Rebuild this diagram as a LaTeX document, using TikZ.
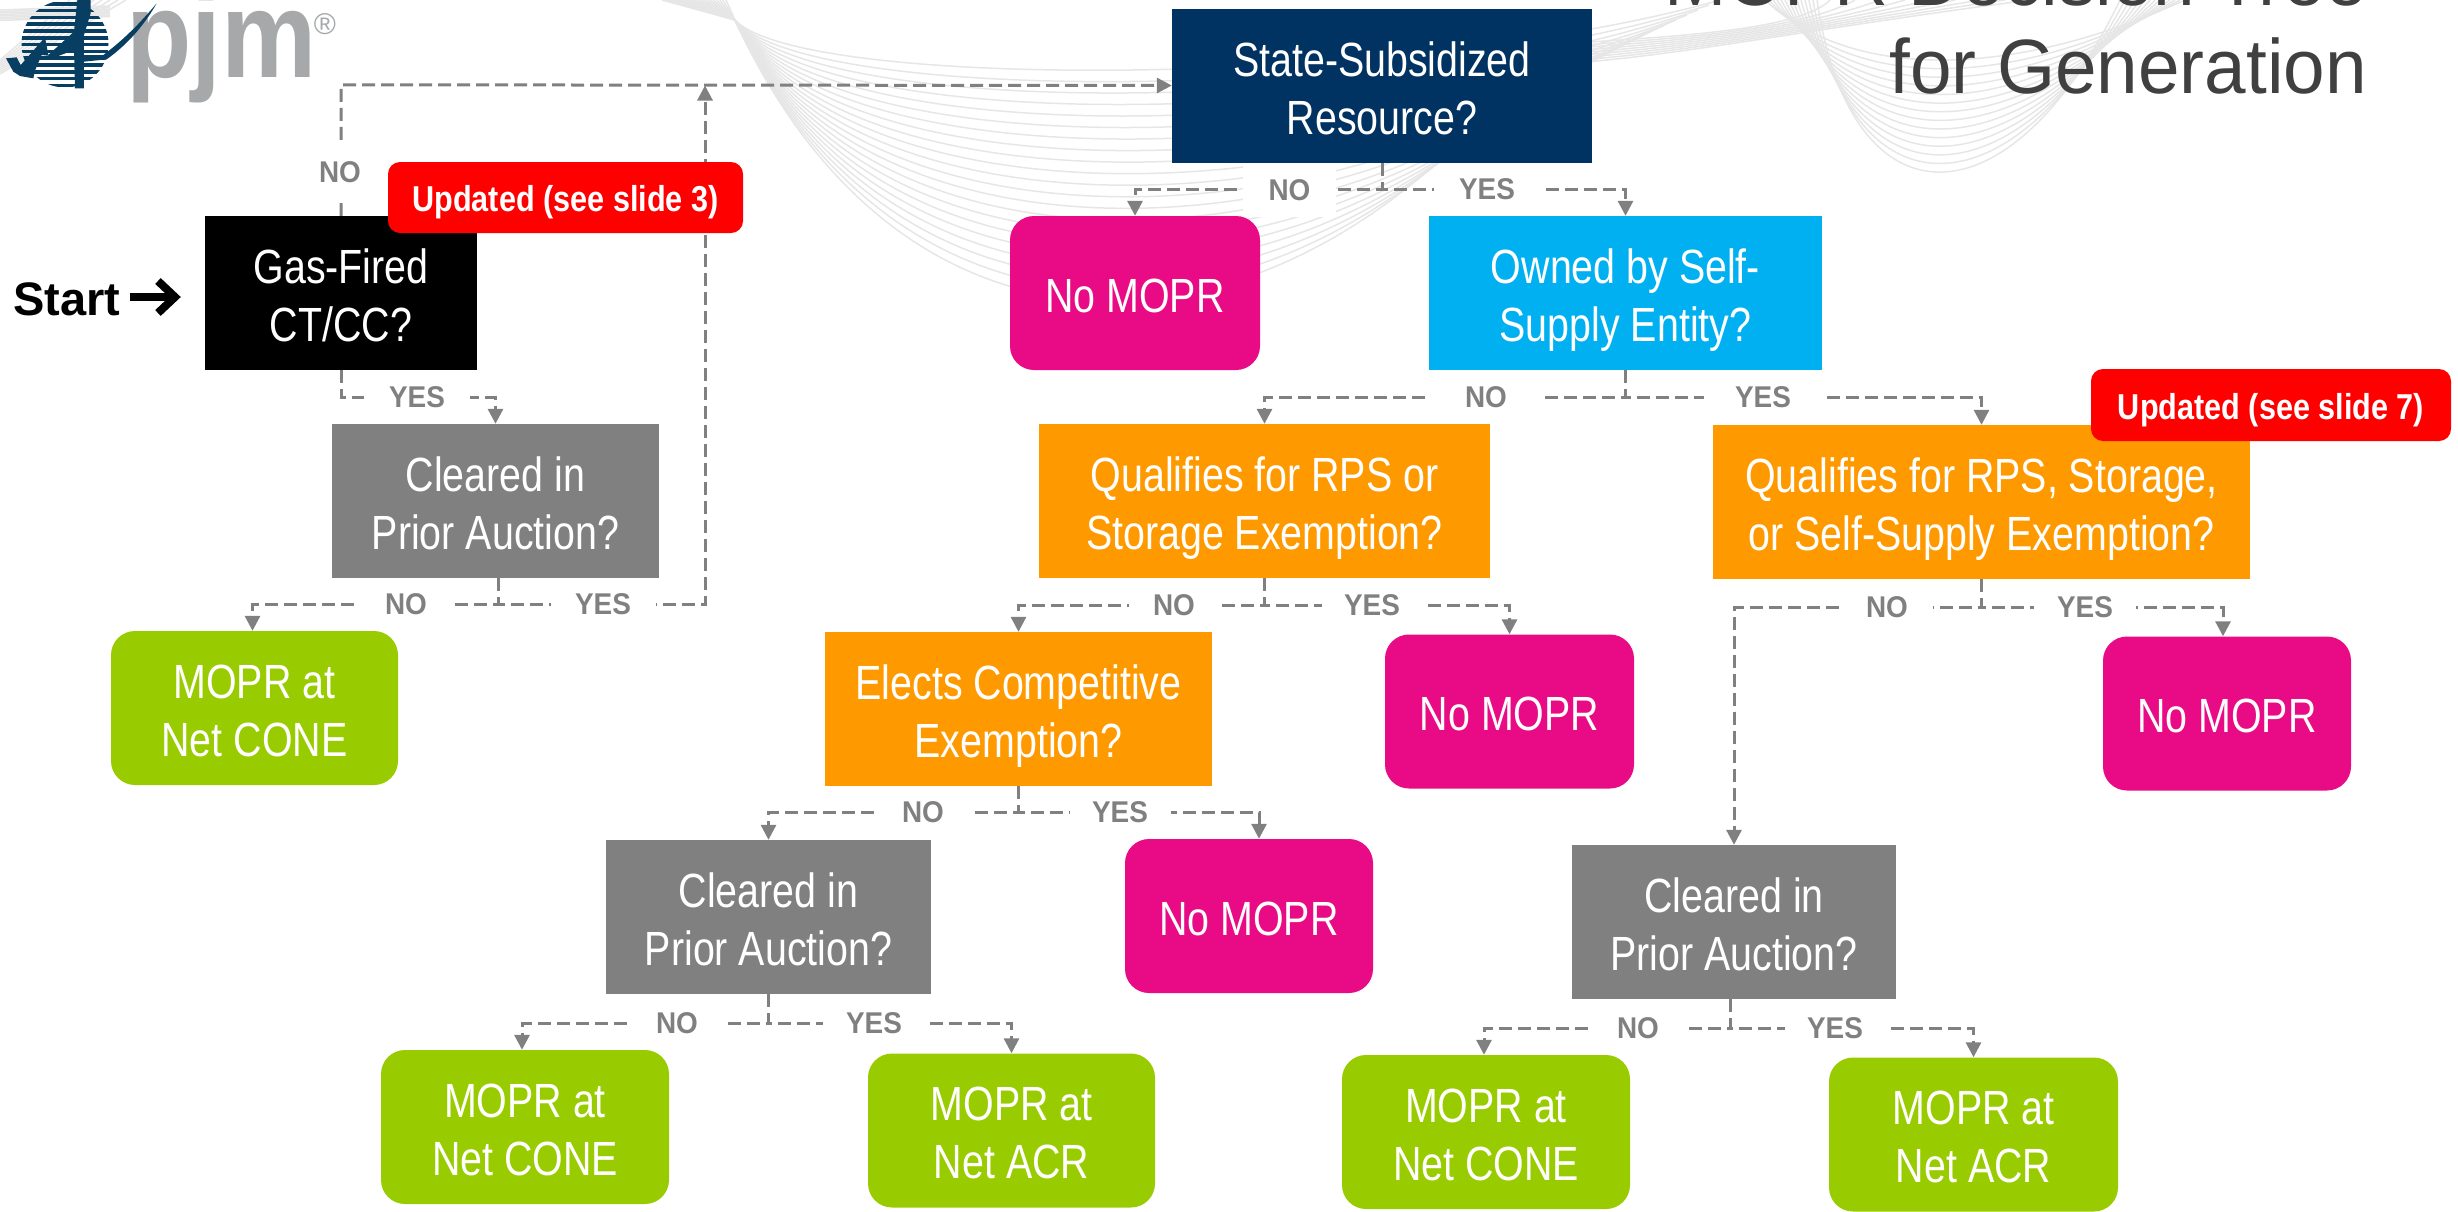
\documentclass[tikz,border=0pt]{standalone}
\usepackage{fontspec}
\usetikzlibrary{arrows.meta}
\setmainfont{Liberation Sans}
\newfontfamily\narrowf[FakeStretch=0.82]{Liberation Sans}
\newfontfamily\redf[FakeStretch=0.85]{Liberation Sans}
\newfontfamily\labf[FakeStretch=0.93]{Liberation Sans}
\newfontfamily\titlef[FakeStretch=0.97]{Liberation Sans}
\newfontfamily\logof[FakeStretch=0.87]{Liberation Sans}
\definecolor{cnavy}{RGB}{0,50,98}
\definecolor{ccyan}{RGB}{0,176,240}
\definecolor{cmag}{RGB}{233,10,133}
\definecolor{corange}{RGB}{255,153,0}
\definecolor{cgreen}{RGB}{153,204,0}
\definecolor{cgray}{RGB}{128,128,128}
\definecolor{clogo}{RGB}{166,168,170}
\definecolor{cglobe}{RGB}{8,62,98}
\definecolor{cwave}{RGB}{230,230,230}
\definecolor{ctitle}{RGB}{64,64,64}
\newcommand{\twol}[2]{\rule{0pt}{50pt}#1\\#2\rule[-12pt]{0pt}{12pt}}
\newcommand{\onel}[1]{\rule{0pt}{50pt}#1\rule[-12pt]{0pt}{12pt}}
\tikzset{
  boxq/.style={inner sep=0pt,align=center,text=white,minimum height=154pt,
    font=\narrowf\fontsize{48}{58}\selectfont},
  boxr/.style={boxq,rounded corners=24pt},
  redtag/.style={fill=red,rounded corners=12pt,inner sep=0pt,text=white,
    font=\redf\bfseries\fontsize{36}{40}\selectfont,
    execute at begin node={\rule{0pt}{36pt}},
    execute at end node={\rule[-2pt]{0pt}{2pt}}},
  lab/.style={fill=white,inner sep=0pt,text=cgray,minimum height=30pt,
    font=\labf\bfseries\fontsize{30}{32}\selectfont,
    execute at begin node={\rule{0pt}{24pt}},
    execute at end node={\rule[-2.5pt]{0pt}{2.5pt}}},
  conn/.style={draw=cgray,line width=3pt,dash pattern=on 13pt off 6pt,
    -{Triangle[length=15pt,width=15pt]}},
  wave/.style={draw=cwave,line width=1.5pt},
}
\begin{document}
\begin{tikzpicture}[x=1pt,y=-1pt]
\useasboundingbox (0,0) rectangle (2458,1211);
\begin{scope}
\clip (0,0) rectangle (2458,1211);
% background waves
\foreach \i in {0,...,20}{
  \pgfmathsetmacro\q{\i/20}
  \pgfmathsetmacro\hh{90+290*\q}
  \pgfmathsetmacro\ax{800+100*\q}
  \pgfmathsetmacro\bx{1400-150*\q}
  \pgfmathsetmacro\ex{1720-220*\q}
  \pgfmathsetmacro\ey{100*\q}
  \pgfmathsetmacro\sx{662+\i*3.2}
  \draw[wave] (\sx,0) -- (735,20) .. controls (\ax,\hh) and (\bx,\hh) .. (\ex,\ey);
}
\foreach \i in {0,...,13}{
  \pgfmathsetmacro\hh{80+\i*11.5}
  \pgfmathsetmacro\sx{1765+\i*4}
  \pgfmathsetmacro\ex{2185-\i*5}
  \draw[wave] (\sx,0) .. controls (1850,\hh) and (2010,\hh) .. (\ex,0);
}
\foreach \i in {0,...,8}{
  \pgfmathsetmacro\yy{44+\i*2.5}
  \pgfmathsetmacro\ex{1830+\i*25}
  \draw[wave] (1560,\yy) .. controls (1680,\yy-8) and (1800,30) .. (\ex,0);
}
\foreach \i in {0,...,7}{
  \draw[wave] (0,{60+\i*2}) -- ({70+\i*8},0);
  \draw[wave] (0,{10+\i*1.5}) -- (110,{6+\i*1.5});
}
% title
\node[anchor=base east,inner sep=0pt,text=ctitle,font=\titlef\fontsize{77}{88}\selectfont] (t1) at (2367,5) {MOPR Decision Tree};
\node[anchor=base east,inner sep=0pt,text=ctitle,font=\titlef\fontsize{77}{88}\selectfont] (t2) at (2367,93) {for Generation};
% logo
\node[anchor=base west,inner sep=0pt,text=clogo,font=\logof\bfseries\fontsize{123}{130}\selectfont] (pjm) at (126,77) {pjm};
\node[anchor=center,inner sep=0pt,text=clogo,font=\fontsize{30}{30}\selectfont] (reg) at (325,24) {®};
\begin{scope}
  \clip (65,44) circle (43.5);
  \foreach \k in {0,...,12}{
    \fill[cglobe] (15,{2+\k*6.8}) rectangle (115,{5.6+\k*6.8});
  }
\end{scope}
\begin{scope}[scale=1/3]
\fill[cglobe] (18,175) -- (50,172) -- (62,195) -- (135,112) -- (145,165) -- (222,95) -- (232,0) -- (272,0) -- (272,40)
  -- (252,105) -- (252,165) -- (310,165) .. controls (370,120) and (420,70) .. (470,10)
  .. controls (430,80) and (380,135) .. (320,178) -- (252,185) -- (252,265) -- (225,265)
  -- (222,150) -- (170,170) -- (125,165) -- (105,212) -- (100,235) -- (60,228) -- (40,215) -- cycle;
\end{scope}
% boxes
\node[boxq,fill=cnavy,minimum width=420pt] (navy) at (1382,86) {\twol{State-Subsidized}{Resource?}};
\node[boxq,fill=black,minimum width=272pt] (gas) at (341,293) {\twol{Gas-Fired}{CT/CC?}};
\node[boxq,fill=ccyan,minimum width=393pt] (owned) at (1625.5,293) {\twol{Owned by Self-}{Supply Entity?}};
\node[boxr,fill=cmag,minimum width=250pt] (nomA) at (1135,293) {\onel{No MOPR}};
\node[boxq,fill=cgray,minimum width=327pt] (clrA) at (495.5,501) {\twol{Cleared in}{Prior Auction?}};
\node[boxq,fill=corange,minimum width=451pt] (rps) at (1264.5,501) {\twol{Qualifies for RPS or}{Storage Exemption?}};
\node[boxq,fill=corange,minimum width=537pt] (rpsB) at (1981.5,502) {\twol{Qualifies for RPS, Storage,}{or Self-Supply Exemption?}};
\node[boxr,fill=cgreen,minimum width=287pt] (grnA) at (254.5,708) {\twol{MOPR at}{Net CONE}};
\node[boxq,fill=corange,minimum width=387pt] (elects) at (1018.5,709) {\twol{Elects Competitive}{Exemption?}};
\node[boxr,fill=cmag,minimum width=249pt] (nomB) at (1509.5,711.5) {\onel{No MOPR}};
\node[boxr,fill=cmag,minimum width=248pt] (nomC) at (2227,713.5) {\onel{No MOPR}};
\node[boxq,fill=cgray,minimum width=325pt] (clrB) at (768.5,917) {\twol{Cleared in}{Prior Auction?}};
\node[boxr,fill=cmag,minimum width=248pt] (nomD) at (1249,916) {\onel{No MOPR}};
\node[boxq,fill=cgray,minimum width=324pt] (clrC) at (1734,922) {\twol{Cleared in}{Prior Auction?}};
\node[boxr,fill=cgreen,minimum width=288pt] (grnB) at (525,1127) {\twol{MOPR at}{Net CONE}};
\node[boxr,fill=cgreen,minimum width=287pt] (grnC) at (1011.5,1130.5) {\twol{MOPR at}{Net ACR}};
\node[boxr,fill=cgreen,minimum width=288pt] (grnD) at (1486,1132) {\twol{MOPR at}{Net CONE}};
\node[boxr,fill=cgreen,minimum width=289pt] (grnE) at (1973.5,1134.5) {\twol{MOPR at}{Net ACR}};
% start
\node[anchor=base west,inner sep=0pt,font=\bfseries\fontsize{47}{50}\selectfont] (start) at (13,315) {Start};
\draw[line width=8pt,shorten >=24pt,-{Straight Barb[length=17pt,width=32pt,line width=8pt]}] (start.east |- gas.west) ++(10,4) coordinate (startarrow) -- (gas.west |- startarrow);
% connectors
\draw[conn] (gas.north) -- ++(0,-131) -- (navy.west |- 0,85.5);
\draw[conn] (gas.south) -- ++(0,27) -| (clrA.north);
\draw[conn] ([xshift=3pt]clrA.south) -- ++(0,26) -| ([xshift=-2pt]grnA.north);
\draw[conn] ([xshift=3pt]clrA.south) -- ++(0,26) -| (705,85.5);
\draw[conn] (navy.south) -- ++(0,26) -| (nomA.north);
\draw[conn] (navy.south) -- ++(0,26) -| (owned.north);
\draw[conn] (owned.south) -- ++(0,27) -| (rps.north);
\draw[conn] (owned.south) -- ++(0,27) -| (rpsB.north);
\draw[conn] (rps.south) -- ++(0,27) -| (elects.north);
\draw[conn] (rps.south) -- ++(0,27) -| (nomB.north);
\draw[conn] (rpsB.south) -- ++(0,28) -| (clrC.north);
\draw[conn] (rpsB.south) -- ++(0,28) -| ([xshift=-4pt]nomC.north);
\draw[conn] (elects.south) -- ++(0,26) -| (clrB.north);
\draw[conn] (elects.south) -- ++(0,26) -| ([xshift=10pt]nomD.north);
\draw[conn] (clrB.south) -- ++(0,29) -| ([xshift=-3pt]grnB.north);
\draw[conn] (clrB.south) -- ++(0,29) -| (grnC.north);
\draw[conn] ([xshift=-4pt]clrC.south) -- ++(0,29) -| ([xshift=-2pt]grnD.north);
\draw[conn] ([xshift=-4pt]clrC.south) -- ++(0,29) -| (grnE.north);
% labels
\node[lab,minimum width=60pt,minimum height=62pt] (l1) at (340,172) {NO};
\node[lab,minimum width=106pt] (l2) at (417,397) {YES};
\node[lab,minimum width=92pt] (l3) at (406,604) {NO};
\node[lab,minimum width=105pt] (l4) at (603,604) {YES};
\node[lab,minimum width=93pt,minimum height=54pt] (l5) at (1289.5,190) {NO};
\node[lab,minimum width=106pt] (l6) at (1487,189) {YES};
\node[lab,minimum width=111pt] (l7) at (1486,397) {NO};
\node[lab,minimum width=119pt] (l8) at (1763,397) {YES};
\node[lab,minimum width=91pt] (l9) at (1174,605) {NO};
\node[lab,minimum width=101pt] (l10) at (1372,605) {YES};
\node[lab,minimum width=92pt] (l11) at (1887,607) {NO};
\node[lab,minimum width=102pt] (l12) at (2085,607) {YES};
\node[lab,minimum width=91pt] (l13) at (923,812) {NO};
\node[lab,minimum width=101pt] (l14) at (1120,812) {YES};
\node[lab,minimum width=92pt] (l15) at (677,1023) {NO};
\node[lab,minimum width=102pt] (l16) at (874,1023) {YES};
\node[lab,minimum width=93pt] (l17) at (1638,1028) {NO};
\node[lab,minimum width=101pt] (l18) at (1835,1028) {YES};
% tags
\node[redtag,minimum width=355pt,minimum height=71pt] (tagA) at (565.5,197.5) {Updated (see slide 3)};
\node[redtag,minimum width=360pt,minimum height=72pt] (tagB) at (2271,405) {Updated (see slide 7)};
\end{scope}
\end{tikzpicture}
\end{document}
